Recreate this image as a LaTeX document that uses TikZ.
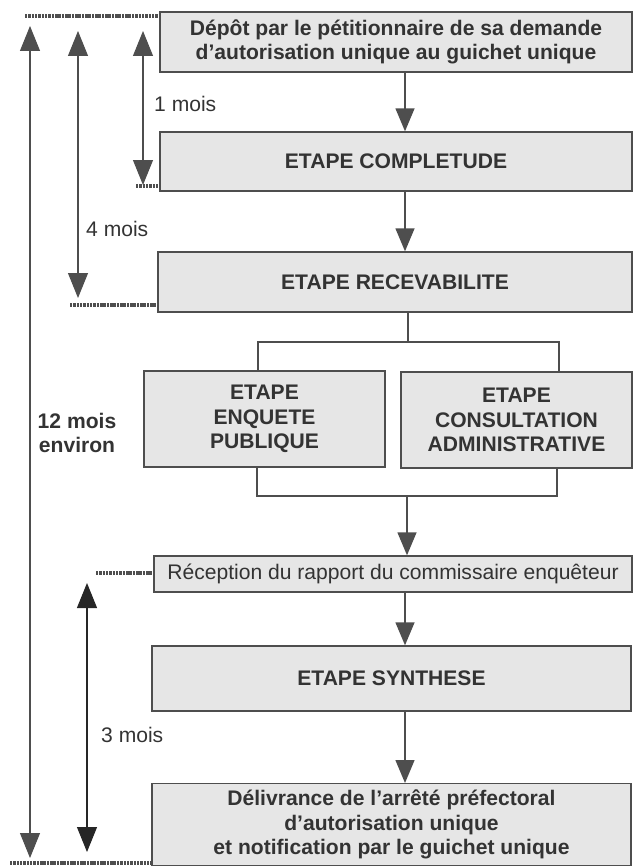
\documentclass[tikz,border=0pt]{standalone}
\usepackage{fontspec}
\setmainfont{Liberation Sans}
\usetikzlibrary{arrows.meta}
\definecolor{boxfill}{HTML}{E6E6E6}
\definecolor{inkgray}{HTML}{333333}
\definecolor{linegray}{HTML}{4E4E4E}
\begin{document}
\begin{tikzpicture}[x=0.02cm, y=-0.02cm, font=\fontsize{12}{14}\selectfont, text=inkgray,
    box/.style={draw=linegray, line width=0.8pt, fill=boxfill, inner sep=0pt, align=center, font=\fontsize{12}{14}\selectfont\bfseries},
    flow/.style={draw=linegray, line width=0.8pt, -{Triangle[length=0.46cm, width=0.38cm]}},
    span/.style={draw=linegray, line width=0.6pt, {Triangle[length=0.5cm, width=0.4cm]}-{Triangle[length=0.5cm, width=0.4cm]}},
    dotline/.style={draw=linegray, line width=2.4pt, dash pattern=on 1.4pt off 0.5pt}]
    \useasboundingbox (0,0) rectangle (632,868);
    \coordinate (spine) at (405,0);
    \node [box, minimum width=9.44cm, minimum height=1.2cm] (depot) at (396,42) {Dépôt par le pétitionnaire de sa demande\\d'autorisation unique au guichet unique};
    \node [box, minimum width=9.44cm, minimum height=1.18cm] (completude) at (396,161.5) {ETAPE COMPLETUDE};
    \node [box, minimum width=9.48cm, minimum height=1.2cm] (recevabilite) at (395,282) {ETAPE RECEVABILITE};
    \node [box, minimum width=4.82cm, minimum height=1.92cm] (enquete) at (264.5,419) {ETAPE\\ENQUETE\\PUBLIQUE};
    \node [box, minimum width=4.62cm, minimum height=1.92cm] (consultation) at (516.5,420) {ETAPE\\CONSULTATION\\ADMINISTRATIVE};
    \node [box, minimum width=9.56cm, minimum height=0.72cm, font=\fontsize{12}{14}\selectfont] (reception) at (393,574) {Réception du rapport du commissaire enquêteur};
    \node [box, minimum width=9.58cm, minimum height=1.3cm] (synthese) at (391.5,678.5) {ETAPE SYNTHESE};
    \node [box, minimum width=9.58cm, minimum height=1.64cm] (delivrance) at (391.5,783) [anchor=north] {Délivrance de l'arrêté préfectoral\\d'autorisation unique\\et notification par le guichet unique};
    \coordinate (forkTopL) at (258,342);
    \coordinate (forkTopR) at (559,342);
    \coordinate (forkBotL) at (257,496);
    \coordinate (forkBotR) at (557,496);
    \draw [flow] (depot.south -| spine) -- (completude.north -| spine);
    \draw [flow] (completude.south -| spine) -- (recevabilite.north -| spine);
    \draw [draw=linegray, line width=0.8pt] (recevabilite.south -| 408,0) -- (forkTopL -| 408,0);
    \draw [draw=linegray, line width=0.8pt] (enquete.north -| forkTopL) -- (forkTopL) -- (forkTopR) -- (consultation.north -| forkTopR);
    \draw [draw=linegray, line width=0.8pt] (enquete.south -| forkBotL) -- (forkBotL) -- (forkBotR) -- (consultation.south -| forkBotR);
    \draw [flow] (forkBotL -| 407,0) -- (reception.north -| 407,0);
    \draw [flow] (reception.south -| spine) -- (synthese.north -| spine);
    \draw [flow] (synthese.south -| spine) -- (delivrance.north -| spine);
    \coordinate (startLine) at (25,16);
    \coordinate (complLine) at (136,186);
    \coordinate (recevLine) at (70,305);
    \coordinate (receptLine) at (96,573);
    \coordinate (endLine) at (10,863);
    \draw [dotline] (startLine) -- (startLine -| depot.west);
    \draw [dotline] (complLine) -- (complLine -| completude.west);
    \draw [dotline] (recevLine) -- (recevLine -| recevabilite.west);
    \draw [dotline] (receptLine) -- (receptLine -| reception.west);
    \draw [dotline] (endLine) -- (endLine -| delivrance.west);
    \draw [span] (143,31) -- (143,185);
    \draw [span] (78,31) -- (78,298);
    \draw [span] (30,26) -- (30,858);
    \draw [span, draw=black!85] (87,583) -- (87,852);
    \node [anchor=west] (oneMonth) at (148,104) {1 mois};
    \node [anchor=west] (fourMonths) at (80,229) {4 mois};
    \node [align=center, font=\fontsize{12}{14}\selectfont\bfseries] (twelveMonths) at (77,433) {12 mois\\environ};
    \node [anchor=west] (threeMonths) at (95,735) {3 mois};
\end{tikzpicture}
\end{document}
